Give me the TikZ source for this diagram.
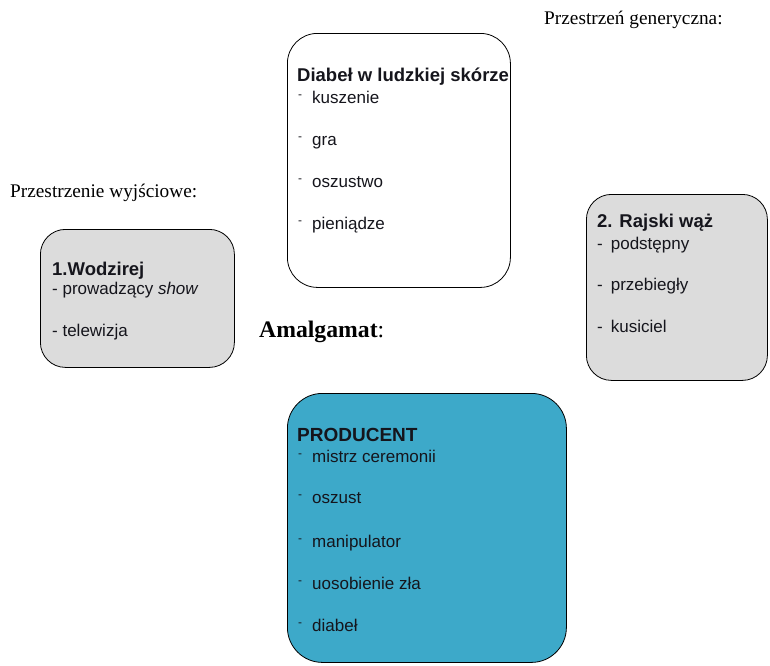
\documentclass[tikz,border=0pt]{standalone}
\usepackage{fontspec}
\setmainfont{Liberation Serif}
\newfontfamily\arial{Liberation Sans}
\definecolor{boxgrey}{HTML}{DCDCDC}
\definecolor{boxblue}{HTML}{3DA9C9}
\definecolor{inktext}{HTML}{15151C}
\tikzset{
  spacebox/.style={draw=black, thick, rounded corners=30pt, inner sep=0pt, anchor=north west},
  boxtitle/.style={anchor=base west, inner sep=0pt, text=inktext, font=\arial\bfseries\fontsize{18.5}{20}\selectfont},
  boxitem/.style={anchor=base west, inner sep=0pt, text=inktext, font=\arial\fontsize{17}{19}\selectfont},
  spacelabel/.style={anchor=base west, inner sep=0pt, font=\fontsize{19.3}{21}\selectfont}
}
\newcommand{\bul}{\raisebox{5pt}{\scalebox{0.7}{-}}\hspace{10pt}}
\begin{document}
\begin{tikzpicture}[x=1pt,y=-1pt]
  \useasboundingbox (0,0) rectangle (770,665);
  % boxes
  \node[spacebox, fill=white, minimum width=223pt, minimum height=254pt] (generic) at (287,33) {};
  \node[spacebox, fill=boxgrey, rounded corners=25pt, minimum width=194pt, minimum height=138pt] (input1) at (40,229) {};
  \node[spacebox, fill=boxgrey, rounded corners=25pt, minimum width=181pt, minimum height=186pt] (input2) at (586,194) {};
  \node[spacebox, fill=boxblue, rounded corners=35pt, minimum width=279pt, minimum height=269pt] (blend) at (287,393) {};
  % labels
  \node[spacelabel] (lgeneric) at (544,24) {Przestrzeń generyczna:};
  \node[spacelabel] (linput) at (10,197) {Przestrzenie wyjściowe:};
  \node[spacelabel, font=\fontsize{23.7}{26}\selectfont] (lblend) at (259,337) {\textbf{Amalgamat}:};
  % generic space
  \node[boxtitle] (gtitle) at (297,81) {Diabeł w ludzkiej skórze};
  \foreach \y/\txt [count=\i] in {103/kuszenie,145/gra,187/oszustwo,229/pieniądze}{
    \node[boxitem] (g\i) at (298,\y) {\bul\txt};
  }
  % input space 1
  \node[boxtitle] (atitle) at (52,275) {1.Wodzirej};
  \node[boxitem] (a1) at (52,294) {- prowadzący \textit{show}};
  \node[boxitem] (a2) at (52,336) {- telewizja};
  % input space 2
  \node[boxtitle] (btitle) at (597,227) {2. Rajski wąż};
  \foreach \y/\txt [count=\i] in {249/podstępny,290/przebiegły,332/kusiciel}{
    \node[boxitem] (b\i) at (597,\y) {-\hspace{8pt}\txt};
  }
  % blended space
  \node[boxtitle, font=\arial\bfseries\fontsize{19}{21}\selectfont] (ctitle) at (297,441) {PRODUCENT};
  \foreach \y/\txt [count=\i] in {462/mistrz ceremonii,503/oszust,547/manipulator,589/uosobienie zła,631/diabeł}{
    \node[boxitem] (c\i) at (298,\y) {\bul\txt};
  }
\end{tikzpicture}
\end{document}
